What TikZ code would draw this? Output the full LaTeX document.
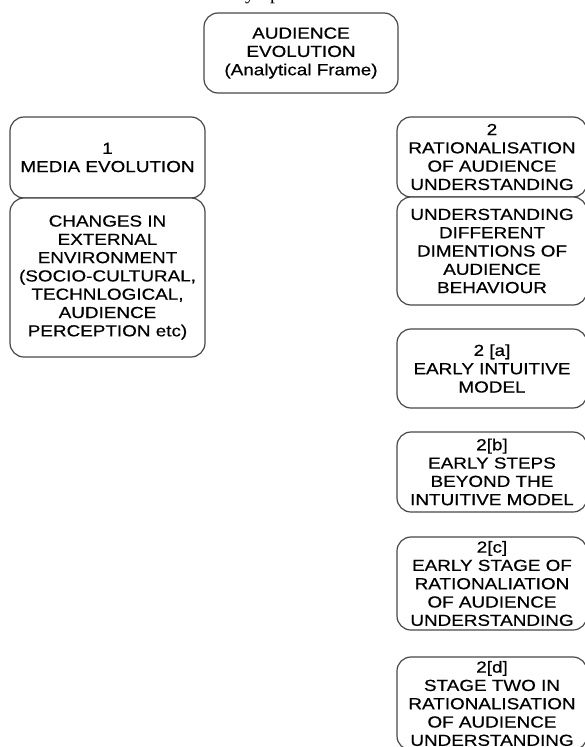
\documentclass[tikz,border=0pt]{standalone}
\usepackage{fontspec}
\setmainfont{Liberation Sans}[FakeStretch=1.18,FakeBold=0.5]
\newfontfamily\serifcut{Liberation Serif}
\begin{document}
\begin{tikzpicture}[x=1pt,y=-1pt,
  box/.style={draw=black!72, line width=1.2pt, rounded corners=14pt,
    fill=white, align=center, inner sep=0pt,
    font=\fontsize{16}{18.3}\selectfont},
  cuttext/.style={inner sep=0pt, anchor=base west,
    font=\serifcut\fontsize{20}{24}\selectfont}]
\useasboundingbox (0,0) rectangle (585,747);

% descenders of a line of running text above the frame
\node[cuttext] (cuty) at (245,-1) {y};
\node[cuttext] (cutp) at (270,-1) {p};

% title
\node[box, minimum width=194pt, minimum height=80pt] (frame) at (301,53)
  {AUDIENCE\\EVOLUTION\\(Analytical Frame)};

% left column
\node[box, minimum width=195pt, minimum height=81pt] (media) at (107.5,157.5)
  {1\\MEDIA EVOLUTION};
\node[box, minimum width=195pt, minimum height=159pt] (external) at (107.5,277.5)
  {CHANGES IN\\EXTERNAL\\ENVIRONMENT\\(SOCIO-CULTURAL,\\TECHNLOGICAL,\\AUDIENCE\\PERCEPTION etc)};

% right column
\node[box, minimum width=190pt, minimum height=80pt] (ration) at (492,157)
  {2\\RATIONALISATION\\OF AUDIENCE\\UNDERSTANDING};
\node[box, minimum width=190pt, minimum height=108pt] (dims) at (492,251)
  {UNDERSTANDING\\DIFFERENT\\DIMENTIONS OF\\AUDIENCE\\BEHAVIOUR};
\node[box, minimum width=190pt, minimum height=79pt] (stagea) at (492,368.5)
  {2 [a]\\EARLY INTUITIVE\\MODEL};
\node[box, minimum width=190pt, minimum height=80pt] (stageb) at (492,472)
  {2[b]\\EARLY STEPS\\BEYOND THE\\INTUITIVE MODEL};
\node[box, minimum width=190pt, minimum height=93pt] (stagec) at (492,583.5)
  {2[c]\\EARLY STAGE OF\\RATIONALIATION\\OF AUDIENCE\\UNDERSTANDING};
\node[box, minimum width=190pt, minimum height=93pt] (staged) at (492,703.5)
  {2[d]\\STAGE TWO IN\\RATIONALISATION\\OF AUDIENCE\\UNDERSTANDING};
\end{tikzpicture}
\end{document}
